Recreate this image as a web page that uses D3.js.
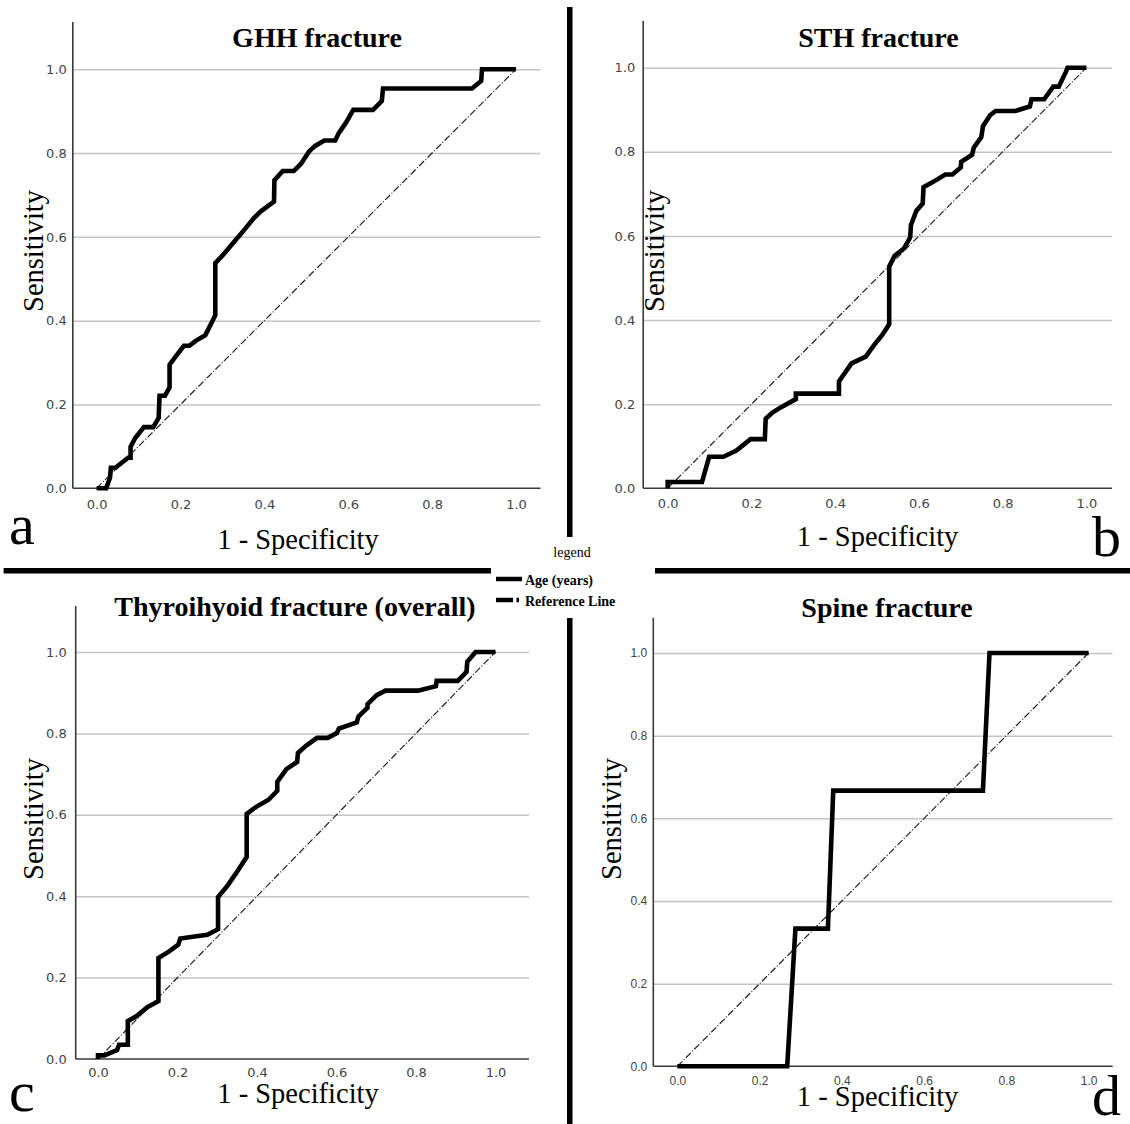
<!DOCTYPE html>
<html>
<head>
<meta charset="utf-8">
<script src="https://cdn.jsdelivr.net/npm/d3@7"></script>
<style>
  html, body { margin: 0; padding: 0; background: #fff; }
  svg { display: block; }
</style>
</head>
<body>
<div id="chart"></div>
<script>
// ROC data (1 - specificity, sensitivity)
const ghhFpr = [0, 0.023, 0.032, 0.034, 0.045, 0.075, 0.081, 0.081, 0.092, 0.113, 0.135, 0.148, 0.150, 0.163, 0.174, 0.174, 0.191, 0.208, 0.221, 0.238, 0.259, 0.272, 0.283, 0.283, 0.307, 0.332, 0.354, 0.375, 0.393, 0.423, 0.424, 0.444, 0.470, 0.487, 0.507, 0.521, 0.543, 0.569, 0.577, 0.595, 0.612, 0.659, 0.680, 0.683, 0.895, 0.917, 0.919, 1.0];
const ghhTpr = [0, 0, 0.026, 0.049, 0.049, 0.073, 0.073, 0.099, 0.120, 0.146, 0.146, 0.168, 0.221, 0.221, 0.241, 0.295, 0.318, 0.340, 0.340, 0.353, 0.365, 0.391, 0.413, 0.537, 0.563, 0.593, 0.619, 0.645, 0.662, 0.684, 0.735, 0.757, 0.757, 0.774, 0.804, 0.817, 0.830, 0.830, 0.847, 0.873, 0.903, 0.903, 0.924, 0.954, 0.954, 0.972, 1.0, 1.0];

const sthFpr = [0, 0, 0.082, 0.099, 0.133, 0.164, 0.198, 0.232, 0.234, 0.250, 0.271, 0.306, 0.306, 0.409, 0.409, 0.439, 0.473, 0.491, 0.512, 0.529, 0.529, 0.542, 0.564, 0.579, 0.581, 0.594, 0.609, 0.611, 0.633, 0.663, 0.680, 0.700, 0.701, 0.727, 0.731, 0.749, 0.753, 0.770, 0.783, 0.830, 0.865, 0.869, 0.899, 0.921, 0.934, 0.951, 0.955, 1.0];
const sthTpr = [0, 0.015, 0.015, 0.075, 0.075, 0.090, 0.117, 0.117, 0.165, 0.180, 0.193, 0.212, 0.225, 0.225, 0.254, 0.297, 0.313, 0.338, 0.364, 0.390, 0.527, 0.553, 0.570, 0.596, 0.626, 0.660, 0.677, 0.716, 0.728, 0.746, 0.746, 0.763, 0.776, 0.793, 0.810, 0.835, 0.861, 0.887, 0.897, 0.897, 0.908, 0.925, 0.925, 0.955, 0.955, 0.990, 1.0, 1.0];

const thyFpr = [0, 0, 0.016, 0.048, 0.053, 0.075, 0.075, 0.098, 0.125, 0.152, 0.152, 0.180, 0.202, 0.207, 0.243, 0.275, 0.302, 0.302, 0.325, 0.347, 0.374, 0.374, 0.397, 0.429, 0.451, 0.451, 0.474, 0.501, 0.503, 0.524, 0.551, 0.578, 0.601, 0.606, 0.651, 0.655, 0.678, 0.678, 0.701, 0.723, 0.805, 0.850, 0.852, 0.905, 0.927, 0.929, 0.950, 1.0];
const thyTpr = [0, 0.009, 0.009, 0.022, 0.035, 0.035, 0.093, 0.106, 0.128, 0.142, 0.248, 0.265, 0.281, 0.296, 0.301, 0.305, 0.319, 0.398, 0.425, 0.456, 0.496, 0.602, 0.619, 0.637, 0.659, 0.681, 0.712, 0.730, 0.752, 0.770, 0.789, 0.789, 0.801, 0.812, 0.827, 0.841, 0.863, 0.872, 0.894, 0.905, 0.905, 0.916, 0.929, 0.929, 0.951, 0.976, 1.0, 1.0];

const spineFpr = [0, 0.267, 0.287, 0.366, 0.379, 0.743, 0.759, 1.0];
const spineTpr = [0, 0, 0.333, 0.333, 0.667, 0.667, 1.0, 1.0];

const tickValues = [0, 0.2, 0.4, 0.6, 0.8, 1.0];
const panelTitles = ['GHH fracture', 'STH fracture', 'Thyroihyoid fracture (overall)', 'Spine fracture'];
const panelLetters = ['a', 'b', 'c', 'd'];
const legendLabels = ['Age (years)', 'Reference Line'];

const W = 1130, H = 1124;
const SERIF = '"Liberation Serif", "Times New Roman", serif';

// layout of each panel (pixel boxes)
const panels = [
  { fpr: ghhFpr, tpr: ghhTpr, x0: 96.6, x1: 516, yb: 488.3, y1: 69.2, axL: 72.8, axR: 540.5, axT: 22,
    title: [317, 47], ylab: [43, 251], xlab: [298, 549], letter: [9, 544], pad: 6, xpad: 11, tickFont: '"DejaVu Sans", sans-serif', tickSize: 13 },
  { fpr: sthFpr, tpr: sthTpr, x0: 667.7, x1: 1086.4, yb: 488.3, y1: 67.7, axL: 643.2, axR: 1112, axT: 21,
    title: [878.5, 47], ylab: [664, 251], xlab: [877.6, 546], letter: [1092, 556], pad: 8, xpad: 10, tickFont: '"DejaVu Sans", sans-serif', tickSize: 13 },
  { fpr: thyFpr, tpr: thyTpr, x0: 98, x1: 495.5, yb: 1059, y1: 652, axL: 75.7, axR: 529, axT: 606,
    title: [295, 616], ylab: [43, 819], xlab: [298, 1103], letter: [9, 1111], pad: 9, xpad: 9, tickFont: '"DejaVu Sans", sans-serif', tickSize: 13 },
  { fpr: spineFpr, tpr: spineTpr, x0: 677.4, x1: 1088.6, yb: 1066.3, y1: 653, axL: 653.3, axR: 1112.7, axT: 617.7,
    title: [887, 616.6], ylab: [621, 819], xlab: [877.6, 1106], letter: [1092, 1115], pad: 6, xpad: 10, tickFont: '"Liberation Sans", Arial, sans-serif', tickSize: 12 }
];

const svg = d3.select('#chart').append('svg')
  .attr('width', W)
  .attr('height', H)
  .attr('viewBox', `0 0 ${W} ${H}`);

panels.forEach((p, i) => {
  const x = d3.scaleLinear().domain([0, 1]).range([p.x0, p.x1]);
  const y = d3.scaleLinear().domain([0, 1]).range([p.yb, p.y1]);
  const g = svg.append('g').attr('class', `panel${i}`);

  // gridlines + y tick labels
  const yAxisG = g.append('g')
    .attr('transform', `translate(${p.axL},0)`)
    .call(d3.axisLeft(y).tickValues(tickValues).tickFormat(d3.format('.1f'))
      .tickSizeInner(-(p.axR - p.axL)).tickSizeOuter(0).tickPadding(p.pad));
  yAxisG.select('.domain').remove();
  yAxisG.selectAll('.tick line')
    .attr('stroke', '#c4c4c4')
    .attr('stroke-width', 1.5)
    .filter(d => d === 0).remove();
  yAxisG.selectAll('.tick text')
    .attr('font-family', p.tickFont)
    .attr('font-size', p.tickSize)
    .attr('fill', '#444');

  // x tick labels
  const xAxisG = g.append('g')
    .attr('transform', `translate(0,${p.yb})`)
    .call(d3.axisBottom(x).tickValues(tickValues).tickFormat(d3.format('.1f'))
      .tickSize(0).tickPadding(p.xpad));
  xAxisG.select('.domain').remove();
  xAxisG.selectAll('.tick text')
    .attr('font-family', p.tickFont)
    .attr('font-size', p.tickSize)
    .attr('fill', '#444');

  // axis lines
  g.append('line')
    .attr('x1', p.axL).attr('x2', p.axL).attr('y1', p.axT).attr('y2', p.yb)
    .attr('stroke', '#3a3a3a').attr('stroke-width', 1.6);
  g.append('line')
    .attr('x1', p.axL).attr('x2', p.axR).attr('y1', p.yb).attr('y2', p.yb)
    .attr('stroke', '#3a3a3a').attr('stroke-width', 1.6);

  // reference line
  g.append('line')
    .attr('x1', x(0)).attr('y1', y(0)).attr('x2', x(1)).attr('y2', y(1))
    .attr('stroke', '#222')
    .attr('stroke-width', 1.2)
    .attr('stroke-dasharray', '7,2,1,2');

  // ROC curve
  const pts = p.fpr.map((v, k) => [v, p.tpr[k]]);
  g.append('path')
    .datum(pts)
    .attr('d', d3.line().x(d => x(d[0])).y(d => y(d[1])))
    .attr('fill', 'none')
    .attr('stroke', '#000')
    .attr('stroke-width', 4.6)
    .attr('stroke-linejoin', 'miter')
    .attr('stroke-miterlimit', 2);

  // title
  g.append('text')
    .attr('x', p.title[0]).attr('y', p.title[1])
    .attr('text-anchor', 'middle')
    .attr('font-family', SERIF)
    .attr('font-weight', 'bold')
    .attr('font-size', 28)
    .text(panelTitles[i]);

  // axis titles
  g.append('text')
    .attr('transform', `translate(${p.ylab[0]},${p.ylab[1]}) rotate(-90)`)
    .attr('text-anchor', 'middle')
    .attr('font-family', SERIF)
    .attr('font-size', 28.5)
    .text('Sensitivity');
  g.append('text')
    .attr('x', p.xlab[0]).attr('y', p.xlab[1])
    .attr('text-anchor', 'middle')
    .attr('font-family', SERIF)
    .attr('font-size', 28.5)
    .text('1 - Specificity');

  // panel letter
  g.append('text')
    .attr('x', p.letter[0]).attr('y', p.letter[1])
    .attr('font-family', SERIF)
    .attr('font-size', 58)
    .text(panelLetters[i]);
});

// separators
const sep = svg.append('g').attr('fill', '#000');
sep.append('rect').attr('x', 567).attr('y', 7).attr('width', 5.5).attr('height', 530);
sep.append('rect').attr('x', 567).attr('y', 618).attr('width', 5.5).attr('height', 506);
sep.append('rect').attr('x', 3.6).attr('y', 568).attr('width', 487.4).attr('height', 5.5);
sep.append('rect').attr('x', 655).attr('y', 568).attr('width', 475).attr('height', 5.5);

// legend
const lg = svg.append('g');
lg.append('text')
  .attr('x', 572).attr('y', 556.5)
  .attr('text-anchor', 'middle')
  .attr('font-family', SERIF)
  .attr('font-size', 14)
  .text('legend');
lg.append('line')
  .attr('x1', 496).attr('x2', 522).attr('y1', 579).attr('y2', 579)
  .attr('stroke', '#000').attr('stroke-width', 4.5);
lg.append('line')
  .attr('x1', 496).attr('x2', 520).attr('y1', 600).attr('y2', 600)
  .attr('stroke', '#000').attr('stroke-width', 4.5)
  .attr('stroke-dasharray', '17,3.5,2.5,10');
legendLabels.forEach((t, k) => {
  lg.append('text')
    .attr('x', 525).attr('y', 584.5 + k * 21)
    .attr('font-family', SERIF)
    .attr('font-weight', 'bold')
    .attr('font-size', 14)
    .text(t);
});
</script>
</body>
</html>
